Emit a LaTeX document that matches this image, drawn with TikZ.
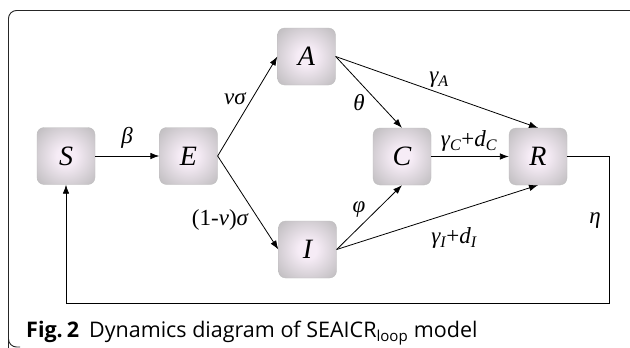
\documentclass[tikz,border=0pt]{standalone}
\usepackage{fontspec}
\setmainfont{Liberation Serif}
\newfontfamily\capfont{Open Sans}
\usetikzlibrary{arrows.meta}
\definecolor{shIn}{RGB}{246,236,246}
\definecolor{shMid}{RGB}{188,186,188}
\definecolor{shOut}{RGB}{150,150,150}
\pgfdeclareradialshading{nodeshade}{\pgfpoint{0bp}{0bp}}{color(0bp)=(shIn); color(8bp)=(shIn); color(36bp)=(shMid); color(52bp)=(shOut); color(75bp)=(shOut)}
\tikzset{
  stbox/.style={rectangle, rounded corners=7pt, minimum width=58pt, minimum height=57pt, shading=nodeshade, draw=gray!50, line width=0.3pt, font=\fontsize{28}{28}\selectfont\itshape, inner sep=0pt},
  arr/.style={-{Latex[length=9pt,width=6.5pt]}, line width=0.8pt},
  lab/.style={font=\fontsize{23}{23}\selectfont\itshape, inner sep=0pt},
}
\begin{document}
\begin{tikzpicture}[x=1pt,y=-1pt]
\useasboundingbox (0,0) rectangle (630,348);
\clip (0,0) rectangle (630,348);
\fill[white] (0,0) rectangle (630,348);
\draw[line width=0.9pt, rounded corners=8pt, black!85] (8.5,360) -- (8.5,10.5) -- (650,10.5);
\draw[line width=0.9pt, rounded corners=8pt, black!85] (8.5,330) -- (8.5,347) -- (20,347);
% nodes
\node[stbox] (S) at (66,156) {S};
\node[stbox] (E) at (188.5,156) {E};
\node[stbox] (A) at (306.5,56.5) {A};
\node[stbox] (I) at (307.5,249.5) {I};
\node[stbox] (C) at (402,156.5) {C};
\node[stbox] (R) at (538,156.5) {R};
% connectors
\draw[arr] (S.east) -- (E.west);
\draw[arr] (E.east) -- (A.west);
\draw[arr] (E.east) -- (I.west);
\draw[arr] (A.east) -- (C.north);
\draw[arr] (A.east) -- (R.north);
\draw[arr] (C.east) -- (R.west);
\draw[arr] (I.east) -- (C.south);
\draw[arr] (I.east) -- (R.south);
\coordinate (c1) at (609,303);
\draw[arr] (R.east) -| (c1) -| (S.south);
% labels
\node[lab] (lb) at (127,138) {β};
\node[lab] (lvs) at (235,99) {vσ};
\node[lab] (l1v) at (220,220) {\upshape(1-\itshape v\upshape)\itshape σ};
\node[lab] (lth) at (359,103) {θ};
\node[lab] (lga) at (439,80) {γ\textsubscript{A}};
\node[lab] (lgc) at (469,141) {γ\textsubscript{C}\upshape+\itshape d\textsubscript{C}};
\node[lab] (lph) at (359,210) {φ};
\node[lab] (lgi) at (454,238) {γ\textsubscript{I}\upshape+\itshape d\textsubscript{I}};
\node[lab] (leta) at (595,221) {η};
% caption
\node[anchor=base west, inner sep=0pt, font=\capfont\fontsize{21.5}{21.5}\selectfont] (cap) at (26,337) {\textbf{Fig.\hspace{4pt}2}\hspace{10pt}Dynamics diagram of SEAICR\textsubscript{loop} model};
\end{tikzpicture}
\end{document}
